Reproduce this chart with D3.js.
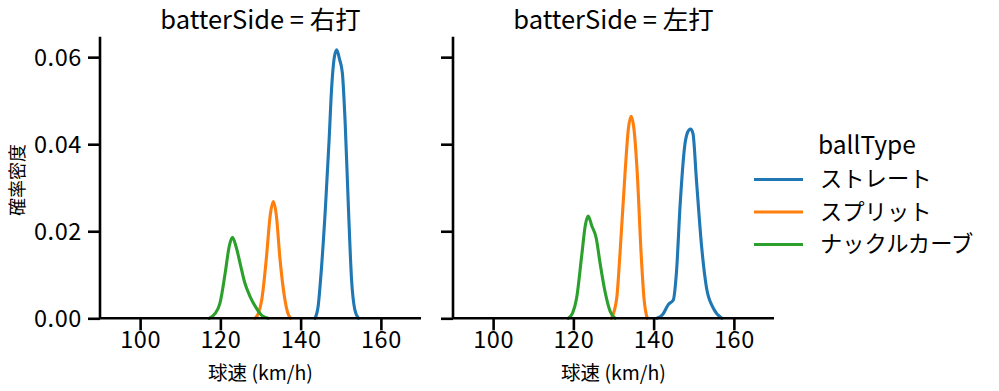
<!DOCTYPE html>
<html><head><meta charset="utf-8">
<script src="https://cdn.jsdelivr.net/npm/d3@7"></script>
<style>body{margin:0;background:#fff}svg{display:block}text{font-family:"Noto Sans CJK JP","Noto Sans",sans-serif;fill:#000}</style>
</head><body><svg id="c" width="999" height="391"></svg>
<script>
// Data (speed km/h, density)
const panels = ["右打", "左打"];
const ballTypes = ["ストレート", "スプリット", "ナックルカーブ"];
const colors = ["#1f77b4", "#ff7f0e", "#2ca02c"];
const xTicks = [100, 120, 140, 160];
const yTicks = [0, 0.02, 0.04, 0.06];

// 右打
const rStraight = [[143.6,0],[144.4,0.003],[145.1,0.0104],[146.2,0.0257],[147.1,0.041],[147.7,0.0525],[148.4,0.06],[149.0,0.0617],[149.7,0.0595],[150.4,0.0564],[151.1,0.0449],[151.9,0.0257],[152.7,0.0088],[153.5,0.002],[154.4,0]];
const rSplit = [[128.6,0],[129.5,0.0012],[130.3,0.0042],[131.5,0.0142],[132.4,0.0235],[133.2,0.0268],[134.0,0.0232],[134.8,0.0142],[136.1,0.0042],[136.8,0.0012],[137.5,0]];
const rKnuckle = [[117.2,0],[118.6,0.001],[119.9,0.0035],[121.2,0.0104],[122.2,0.0165],[123.0,0.0186],[123.9,0.0165],[124.9,0.0127],[126.1,0.0081],[127.4,0.005],[129.0,0.0023],[130.4,0.0006],[131.9,0]];
// 左打
const lStraight = [[140.8,0],[142.2,0.0008],[143.7,0.0032],[144.9,0.0042],[145.7,0.0107],[146.6,0.026],[147.8,0.04],[148.5,0.0428],[149.2,0.0435],[149.8,0.0425],[150.7,0.0314],[152.0,0.0161],[153.2,0.0069],[154.9,0.0023],[157.0,0]];
const lSplit = [[129.5,0],[130.8,0.0046],[131.6,0.0146],[132.9,0.0337],[133.7,0.0435],[134.4,0.0464],[135.1,0.0435],[135.9,0.0337],[136.9,0.0146],[137.6,0.0046],[138.4,0]];
const lKnuckle = [[118.7,0],[119.8,0.0012],[120.8,0.0046],[122.1,0.0146],[123.0,0.0215],[123.7,0.0235],[124.6,0.0212],[125.7,0.0184],[126.6,0.013],[127.9,0.0061],[129.2,0.0015],[130.4,0]];

const seriesByPanel = [[rStraight, rSplit, rKnuckle], [lStraight, lSplit, lKnuckle]];

const svg = d3.select("#c");
const yScale = d3.scaleLinear().domain([0, 0.0647]).range([318.3, 36.7]);
const panelX = [[100, 421], [453, 774]];
const AX = 2.6;

panels.forEach((p, i) => {
  const x = d3.scaleLinear().domain([90, 170]).range(panelX[i]);
  const g = svg.append("g");
  const line = d3.line().x(d => x(d[0])).y(d => yScale(d[1])).curve(d3.curveMonotoneX);
  seriesByPanel[i].forEach((s, k) => {
    g.append("path").datum(s).attr("d", line).attr("fill", "none")
      .attr("stroke", colors[k]).attr("stroke-width", 3.1).attr("stroke-linejoin", "round").attr("stroke-linecap", "round");
  });
  // x axis
  const xa = g.append("g").attr("transform", `translate(0,${yScale(0)})`)
    .call(d3.axisBottom(x).tickValues(xTicks).tickSize(12).tickPadding(2).tickFormat(d3.format("d")));
  xa.select(".domain").attr("stroke", "#000").attr("stroke-width", AX).attr("d", `M${panelX[i][0]},0H${panelX[i][1]}`);
  xa.selectAll(".tick line").attr("stroke", "#000").attr("stroke-width", AX);
  xa.selectAll(".tick text").attr("font-size", 23.5).attr("dy", "0.68em").attr("letter-spacing", 0.6);
  // y axis
  const ya = g.append("g").attr("transform", `translate(${panelX[i][0]},0)`)
    .call(d3.axisLeft(yScale).tickValues(yTicks).tickSize(12).tickPadding(6).tickFormat(i === 0 ? d3.format(".2f") : () => ""));
  ya.select(".domain").attr("stroke", "#000").attr("stroke-width", AX).attr("d", `M0,${yScale.range()[0]}V${yScale.range()[1]}`);
  ya.selectAll(".tick line").attr("stroke", "#000").attr("stroke-width", AX);
  ya.selectAll(".tick text").attr("font-size", 23.5).attr("dy", "0.35em").attr("letter-spacing", 0.6);
  const cx = (panelX[i][0] + panelX[i][1]) / 2;
  g.append("text").attr("x", cx).attr("y", 29).attr("text-anchor", "middle").attr("font-size", 25.5).text("batterSide = " + p);
  g.append("text").attr("x", cx).attr("y", 380).attr("text-anchor", "middle").attr("font-size", 19.5).text("球速 (km/h)");
});
svg.append("text").attr("transform", "translate(24,180) rotate(-90)").attr("text-anchor", "middle").attr("font-size", 18).text("確率密度");

// legend
const lg = svg.append("g");
lg.append("text").attr("x", 818).attr("y", 154).attr("font-size", 24.5).text("ballType");
ballTypes.forEach((b, k) => {
  const yy = 179.5 + k * 32.5;
  lg.append("line").attr("x1", 754).attr("x2", 803).attr("y1", yy).attr("y2", yy).attr("stroke", colors[k]).attr("stroke-width", 3.1);
  lg.append("text").attr("x", 820).attr("y", yy).attr("dy", "0.35em").attr("font-size", 22.3).text(b);
});
</script></body></html>
